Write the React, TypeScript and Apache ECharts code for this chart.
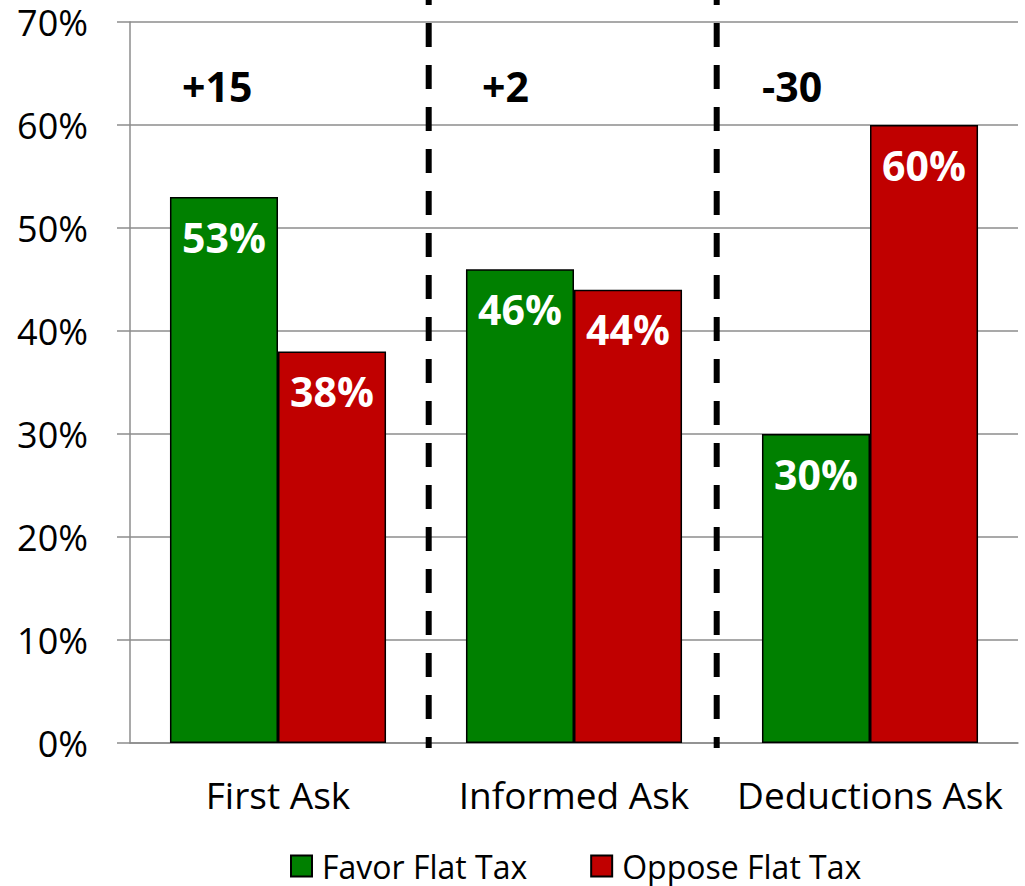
import { useEffect, useRef } from "react";
import * as echarts from "echarts";

const categories = ["First Ask", "Informed Ask", "Deductions Ask"];
const favorFlatTax = [53, 46, 30];
const opposeFlatTax = [38, 44, 60];
const netLabels = ["+15", "+2", "-30"];
const seriesNames = ["Favor Flat Tax", "Oppose Flat Tax"];

const FONT = "'Open Sans', sans-serif";
const GREEN = "#008000";
const RED = "#C00000";
const GRID_COLOR = "#8c8c8c";

export default function App() {
  const ref = useRef<HTMLDivElement>(null);

  useEffect(() => {
    if (!ref.current) return;
    const chart = echarts.init(ref.current, null, { renderer: "svg" });

    const netX = [182, 482, 762];
    const sepX = [428.7, 716.7];

    const barLabel = {
      show: true,
      position: "insideTop",
      distance: 19,
      color: "#ffffff",
      fontFamily: FONT,
      fontWeight: "bold",
      fontSize: 41,
      formatter: "{c}%",
    };

    chart.setOption({
      animation: false,
      backgroundColor: "#ffffff",
      textStyle: { fontFamily: FONT },
      grid: { left: 130, right: 7, top: 22, bottom: 143, containLabel: false },
      legend: {
        top: 845,
        left: 285,
        itemWidth: 21,
        itemHeight: 21,
        itemGap: 63,
        icon: "rect",
        textStyle: { fontFamily: FONT, fontSize: 32, color: "#000000", padding: [0, 0, 0, 5] },
        data: seriesNames,
      },
      xAxis: {
        type: "category",
        data: categories,
        axisLine: { show: true, lineStyle: { color: GRID_COLOR, width: 1.5 } },
        axisTick: { show: false },
        axisLabel: {
          fontFamily: FONT,
          fontSize: 37,
          color: "#000000",
          margin: 33,
          interval: 0,
          hideOverlap: false,
        },
      },
      yAxis: {
        type: "value",
        min: 0,
        max: 70,
        interval: 10,
        axisLine: { show: true, lineStyle: { color: GRID_COLOR, width: 1.5 } },
        axisTick: { show: true, length: 13, lineStyle: { color: GRID_COLOR, width: 1.5 } },
        splitLine: { show: true, lineStyle: { color: GRID_COLOR, width: 1.5 } },
        axisLabel: {
          fontFamily: FONT,
          fontSize: 36,
          lineHeight: 30,
          color: "#000000",
          margin: 42,
          formatter: "{value}%",
        },
      },
      series: [
        {
          name: seriesNames[0],
          type: "bar",
          data: favorFlatTax,
          barGap: "0%",
          barCategoryGap: "27%",
          itemStyle: { color: GREEN, borderColor: "#000000", borderWidth: 1.5 },
          label: barLabel,
        },
        {
          name: seriesNames[1],
          type: "bar",
          data: opposeFlatTax,
          barGap: "0%",
          barCategoryGap: "27%",
          itemStyle: { color: RED, borderColor: "#000000", borderWidth: 1.5 },
          label: barLabel,
        },
      ],
      graphic: [
        ...sepX.map((x) => ({
          type: "line",
          z: 100,
          shape: { x1: x, y1: -19, x2: x, y2: 748 },
          style: { stroke: "#000000", lineWidth: 6, lineDash: [24, 18] },
        })),
        ...netLabels.map((t, i) => ({
          type: "text",
          z: 100,
          x: netX[i],
          y: 86,
          style: {
            text: t,
            fill: "#000000",
            font: `bold 41px ${FONT}`,
            textAlign: "left",
            textVerticalAlign: "middle",
          },
        })),
      ],
    });

    return () => chart.dispose();
  }, []);

  return (
    <div
      ref={ref}
      style={{ position: "fixed", left: 0, top: 0, width: 1025, height: 886, background: "#ffffff" }}
    />
  );
}
